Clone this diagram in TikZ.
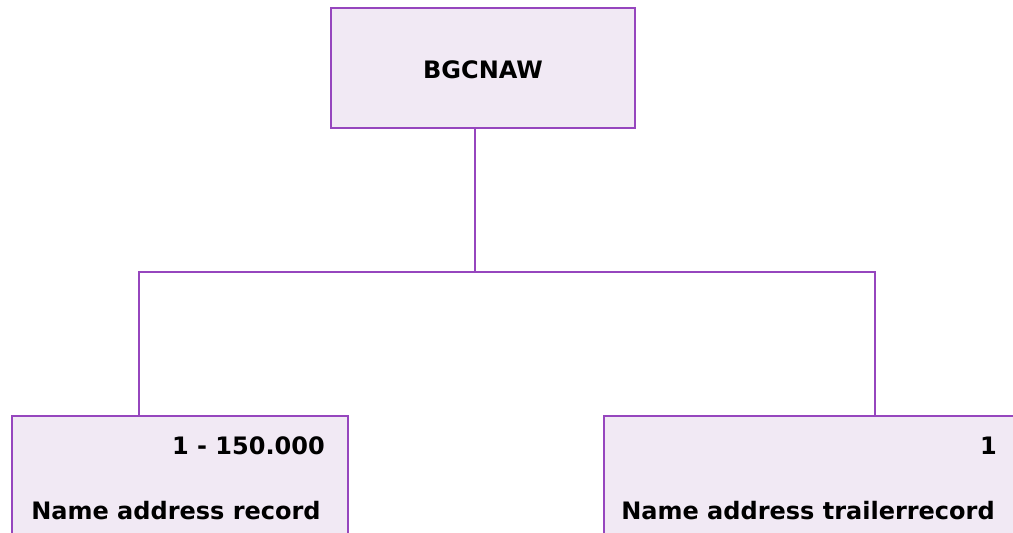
\documentclass[tikz,border=0pt]{standalone}
\usepackage{fontspec}
\setmainfont{DejaVu Sans}
\definecolor{boxline}{RGB}{150,70,190}
\definecolor{boxfill}{RGB}{241,233,244}
\begin{document}
\begin{tikzpicture}[x=1pt,y=-1pt,
  rec/.style={draw=boxline,fill=boxfill,line width=2pt,rectangle,inner sep=0pt},
  lbl/.style={font=\fontsize{24}{28}\selectfont\bfseries,inner sep=0pt},
  link/.style={draw=boxline,line width=2pt}]
\useasboundingbox (0,0) rectangle (1013,533);
\clip (0,0) rectangle (1013,533);
\node[rec,minimum width=304pt,minimum height=120pt] (top) at (483,68) {};
\node[rec,minimum width=336pt,minimum height=140pt,anchor=north west] (left) at (11,415) {};
\node[rec,minimum width=416pt,minimum height=140pt,anchor=north west] (right) at (603,415) {};

\node[lbl,anchor=base] (topname) at (483,78) {BGCNAW};
\node[lbl,anchor=base east] (leftcount) at (325,454) {1 - 150.000};
\node[lbl,anchor=base] (leftname) at (176,519) {Name address record};
\node[lbl,anchor=base east] (rightcount) at (997,454) {1};
\node[lbl,anchor=base] (rightname) at (808,519) {Name address trailerrecord};

\coordinate (split) at (475,272);
\coordinate (leftjoin) at (139,272);
\coordinate (rightjoin) at (875,272);
\path[link] (top.south -| split) -- (split);
\path[link] (leftjoin |- left.north) -- (leftjoin) -- (rightjoin) -- (rightjoin |- right.north);
\end{tikzpicture}
\end{document}
